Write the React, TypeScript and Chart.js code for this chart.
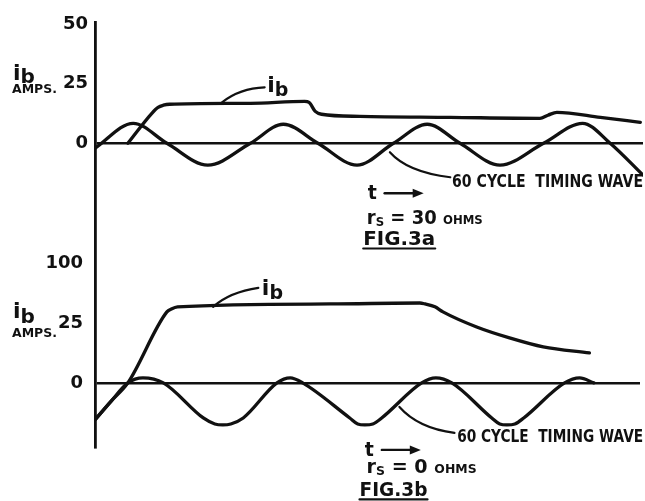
import React, { useEffect, useRef } from "react";
import { Chart, registerables } from "chart.js";
Chart.register(...registerables);

// ---------- DATA (time in ms, current in amps) ----------
// FIG. 3a  (rs = 30 ohms)
const topIbTime = [3.7, 6.4, 7.1, 7.7, 8.4, 17.5, 23.6, 24.1, 24.8, 25.5, 29.8, 40.0, 50.1, 51.0, 52.0, 56.9, 61.4];
const topIbAmps = [0, 12.6, 15.1, 16.0, 16.4, 16.8, 17.6, 17.2, 13.4, 12.2, 11.3, 10.9, 10.5, 11.8, 13.0, 10.9, 8.8];
const topWaveTime = [0, 4.3, 8.1, 12.7, 17.5, 21.2, 25.1, 29.5, 33.6, 37.4, 41.1, 45.6, 50.5, 54.9, 58.0, 61.7];
const topWaveAmps = [-2.1, 8.4, 0, -9.2, 0, 8.0, 0, -9.2, 0, 8.0, 0, -9.2, 0, 8.4, 0, -13.4];
const topTickValues = [0, 25, 50];
const topTickLabels = ["0", "25", "50"];

// FIG. 3b  (rs = 0 ohms)
const botIbTime = [0, 1.8, 3.7, 8.1, 8.6, 9.3, 26.5, 36.6, 37.2, 38.3, 39.2, 43.0, 46.7, 50.5, 55.7];
const botIbAmps = [-15.4, -7.7, 0, 29.6, 30.8, 31.7, 32.9, 33.3, 32.9, 31.7, 29.6, 23.3, 18.75, 15.0, 12.5];
const botWaveTime = [0, 1.8, 3.7, 5.4, 7.7, 12.2, 13.5, 14.4, 15.3, 16.7, 20.5, 22.0, 23.4, 28.7, 29.6, 30.4, 31.3, 32.3, 36.8, 38.4, 40.2, 44.7, 45.6, 46.4, 47.3, 48.3, 52.9, 54.6, 56.2];
const botWaveAmps = [-15.4, -7.7, 0, 2.1, 0, -14.6, -17.1, -17.5, -17.1, -14.6, 0, 2.1, 0, -14.6, -17.1, -17.5, -17.1, -14.6, 0, 2.1, 0, -14.6, -17.1, -17.5, -17.1, -14.6, 0, 2.1, 0];
const botTickValues = [0, 25, 50];
const botTickLabels = ["0", "25", "100"];

const WAVE_LABEL = "60 CYCLE  TIMING WAVE";

// ---------- STYLE ----------
const INK = "#111111";
const FONT = '"DejaVu Sans", "Liberation Sans", Arial, sans-serif';

type Pt = [number, number];
type Part = { t: string; size: number; dy?: number };

function drawParts(ctx: CanvasRenderingContext2D, x: number, y: number, parts: Part[], target?: number) {
  let total = 0;
  for (const p of parts) {
    ctx.font = `bold ${p.size}px ${FONT}`;
    total += ctx.measureText(p.t).width;
  }
  const sx = target ? target / total : 1;
  ctx.save();
  ctx.translate(x, y);
  ctx.scale(sx, 1);
  let cx = 0;
  for (const p of parts) {
    ctx.font = `bold ${p.size}px ${FONT}`;
    ctx.fillText(p.t, cx, p.dy || 0);
    cx += ctx.measureText(p.t).width;
  }
  ctx.restore();
  return x + total * sx;
}

interface Notes {
  id: string;
  ibText: Pt;
  ibLeader: Pt[];
  waveLeader: Pt[];
  waveText: Pt;
  waveWidth: number;
  tArrow: Pt;
  rsText: Pt;
  rsValue: string;
  rsWidth: number;
  figText: Pt;
  figLabel: string;
  figWidth: number;
  iDy: number;
  bDy: number;
  ampsDy: number;
}

function makeNotes(n: Notes) {
  return {
    id: n.id,
    afterDraw(chart: any) {
      const { ctx } = chart;
      const xs = chart.scales.x;
      const ys = chart.scales.y;
      const P = (q: Pt): Pt => [xs.getPixelForValue(q[0]), ys.getPixelForValue(q[1])];
      ctx.save();
      ctx.fillStyle = INK;
      ctx.strokeStyle = INK;
      ctx.lineCap = "round";
      ctx.lineJoin = "round";
      ctx.textAlign = "left";
      ctx.textBaseline = "alphabetic";

      // axis title  i_b / AMPS.
      const p25 = ys.getPixelForValue(25);
      drawParts(ctx, 13, p25 + n.iDy, [
        { t: "i", size: 22 },
        { t: "b", size: 20, dy: n.bDy },
      ]);
      drawParts(ctx, 12, p25 + n.ampsDy, [{ t: "AMPS.", size: 12 }], 45);

      // leaders
      const leader = (pts: Pt[]) => {
        const [a, b, c] = pts.map(P);
        ctx.beginPath();
        ctx.moveTo(a[0], a[1]);
        ctx.quadraticCurveTo(b[0], b[1], c[0], c[1]);
        ctx.lineWidth = 2.2;
        ctx.stroke();
      };
      leader(n.ibLeader);
      leader(n.waveLeader);

      // curve label i_b
      const [ix, iy] = P(n.ibText);
      drawParts(ctx, ix, iy, [
        { t: "i", size: 22 },
        { t: "b", size: 19, dy: 4 },
      ]);

      // timing wave label
      const [wx, wy] = P(n.waveText);
      drawParts(ctx, wx, wy, [{ t: WAVE_LABEL, size: 17 }], n.waveWidth);

      // t --->
      const [tx, ty] = P(n.tArrow);
      ctx.font = `bold 19px ${FONT}`;
      ctx.textBaseline = "middle";
      ctx.fillText("t", tx, ty + 1);
      ctx.textBaseline = "alphabetic";
      ctx.beginPath();
      ctx.moveTo(tx + 17, ty);
      ctx.lineTo(tx + 50, ty);
      ctx.lineWidth = 2.4;
      ctx.stroke();
      ctx.beginPath();
      ctx.moveTo(tx + 56, ty);
      ctx.lineTo(tx + 45, ty - 4.5);
      ctx.lineTo(tx + 45, ty + 4.5);
      ctx.closePath();
      ctx.fill();

      // rs = .. OHMS
      const [rx, ry] = P(n.rsText);
      drawParts(
        ctx,
        rx,
        ry,
        [
          { t: "r", size: 20 },
          { t: "S", size: 13, dy: 2 },
          { t: " = " + n.rsValue + " ", size: 20 },
          { t: "OHMS", size: 13 },
        ],
        n.rsWidth
      );

      // FIG label
      const [fx, fy] = P(n.figText);
      const end = drawParts(ctx, fx, fy, [{ t: n.figLabel, size: 20 }], n.figWidth);
      ctx.beginPath();
      ctx.moveTo(fx, fy + 3);
      ctx.lineTo(end, fy + 3);
      ctx.lineWidth = 2.2;
      ctx.stroke();

      ctx.restore();
    },
  };
}

const pts = (xs: number[], ys: number[]) => xs.map((x, i) => ({ x, y: ys[i] }));

function lineSet(data: { x: number; y: number }[]) {
  return {
    data,
    borderColor: INK,
    borderWidth: 3.3,
    pointRadius: 0,
    fill: false,
    cubicInterpolationMode: "monotone" as const,
    borderCapStyle: "round" as const,
    borderJoinStyle: "round" as const,
  };
}

function makeConfig(opts: {
  sets: { x: number; y: number }[][];
  xMax: number;
  yMin: number;
  yMax: number;
  tickValues: number[];
  tickLabels: string[];
  tickPadding: number;
  padding: { top: number; right: number; bottom: number; left: number };
  notes: any;
}) {
  return {
    type: "line" as const,
    data: { datasets: opts.sets.map(lineSet) },
    options: {
      animation: false as const,
      responsive: false,
      maintainAspectRatio: false,
      layout: { padding: opts.padding },
      plugins: { legend: { display: false }, tooltip: { enabled: false } },
      events: [],
      scales: {
        x: { type: "linear" as const, min: 0, max: opts.xMax, display: false },
        y: {
          type: "linear" as const,
          min: opts.yMin,
          max: opts.yMax,
          afterBuildTicks: (s: any) => {
            s.ticks = opts.tickValues.map((v) => ({ value: v }));
          },
          afterFit: (s: any) => {
            s.width = 95;
            s.paddingTop = 0;
            s.paddingBottom = 0;
          },
          ticks: {
            callback: (_v: any, i: number) => opts.tickLabels[i],
            color: INK,
            font: { family: FONT, size: 18, weight: "bold" as const },
            padding: opts.tickPadding,
          },
          grid: {
            color: (c: any) => (c.tick && c.tick.value === 0 ? INK : "rgba(0,0,0,0)"),
            lineWidth: 2.6,
            drawTicks: false,
          },
          border: { display: true, color: INK, width: 2.8 },
        },
      },
    },
    plugins: [opts.notes],
  };
}

export default function App() {
  const topRef = useRef<HTMLCanvasElement>(null);
  const botRef = useRef<HTMLCanvasElement>(null);

  useEffect(() => {
    const top = new Chart(
      topRef.current as HTMLCanvasElement,
      makeConfig({
        sets: [pts(topWaveTime, topWaveAmps), pts(topIbTime, topIbAmps)],
        xMax: 61.7,
        yMin: -47,
        yMax: 51,
        tickValues: topTickValues,
        tickLabels: topTickLabels,
        tickPadding: 7,
        padding: { top: 22, right: 2, bottom: 0, left: 0 },
        notes: makeNotes({
          id: "notesTop",
          ibText: [19.4, 21.4],
          ibLeader: [
            [14.3, 17.2],
            [16.3, 23.1],
            [19.1, 23.5],
          ],
          waveLeader: [
            [33.2, -3.8],
            [35.2, -12.2],
            [40.0, -14.3],
          ],
          waveText: [40.2, -18.5],
          waveWidth: 191,
          tArrow: [30.7, -21.0],
          rsText: [30.6, -34.1],
          rsValue: "30",
          rsWidth: 116,
          figText: [30.2, -43.0],
          figLabel: "FIG.3a",
          figWidth: 72,
          iDy: -4,
          bDy: 3,
          ampsDy: 9,
        }),
      }) as any
    );
    const bot = new Chart(
      botRef.current as HTMLCanvasElement,
      makeConfig({
        sets: [pts(botWaveTime, botWaveAmps), pts(botIbTime, botIbAmps)],
        xMax: 61.4,
        yMin: -26.7,
        yMax: 53.3,
        tickValues: botTickValues,
        tickLabels: botTickLabels,
        tickPadding: 12,
        padding: { top: 0, right: 5, bottom: 54, left: 0 },
        notes: makeNotes({
          id: "notesBot",
          ibText: [18.8, 36.7],
          ibLeader: [
            [13.3, 31.7],
            [15.2, 37.9],
            [18.4, 39.6],
          ],
          waveLeader: [
            [34.3, -10],
            [36.4, -18.8],
            [40.5, -20.8],
          ],
          waveText: [40.8, -24.6],
          waveWidth: 186,
          tArrow: [30.4, -27.9],
          rsText: [30.6, -37.5],
          rsValue: "0",
          rsWidth: 110,
          figText: [29.8, -47.3],
          figLabel: "FIG.3b",
          figWidth: 68,
          iDy: -5,
          bDy: 5,
          ampsDy: 14,
        }),
      }) as any
    );
    return () => {
      top.destroy();
      bot.destroy();
    };
  }, []);

  return (
    <div style={{ position: "absolute", left: 0, top: 0, width: 645, height: 501, background: "#ffffff" }}>
      <canvas ref={topRef} width={645} height={255} style={{ position: "absolute", left: 0, top: 0, width: 645, height: 255 }} />
      <canvas ref={botRef} width={645} height={246} style={{ position: "absolute", left: 0, top: 255, width: 645, height: 246 }} />
    </div>
  );
}
